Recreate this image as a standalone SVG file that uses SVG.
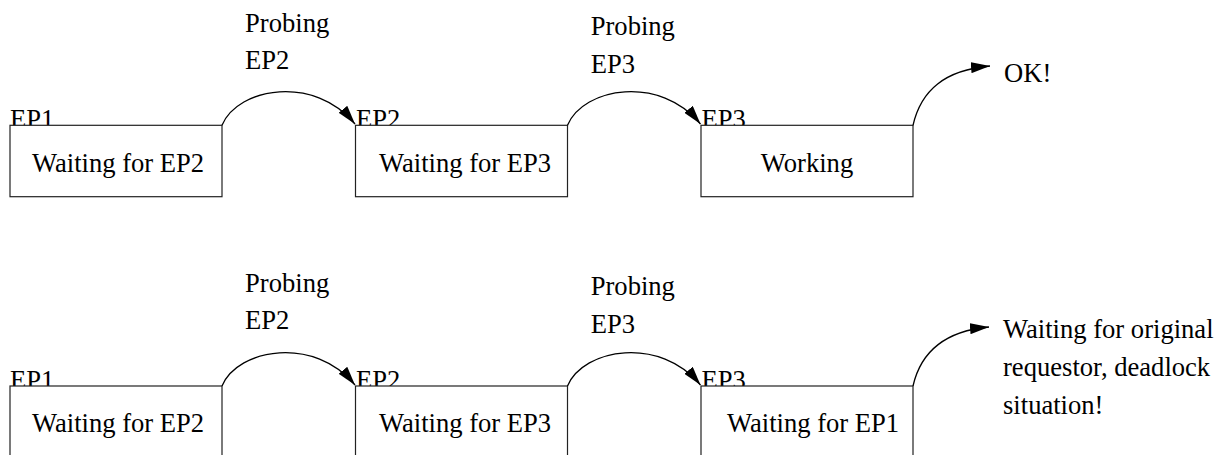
<svg xmlns="http://www.w3.org/2000/svg" width="1227" height="455" viewBox="0 0 1227 455" font-family="'Liberation Serif', 'DejaVu Serif', serif">
<style>
text{font-family:'Liberation Serif','DejaVu Serif',serif;font-size:26.6px;fill:#000}
.box{fill:#fff;stroke:#222;stroke-width:1.2}
.conn{fill:none;stroke:#000;stroke-width:1.3}
</style>
<defs>
<marker id="ah" markerUnits="userSpaceOnUse" markerWidth="19" markerHeight="11" refX="19" refY="5.5" orient="auto">
<path d="M0,0 L19,5.5 L0,11 z" fill="#000"/>
</marker>
</defs>
<rect width="1227" height="455" fill="#fff"/>
<g id="top-ep1">
<text x="10" y="127.5">EP1</text>
<rect class="box" x="10" y="125.3" width="212" height="71.4"/>
<text x="32" y="172">Waiting for EP2</text>
</g>
<g id="top-ep2">
<text x="356" y="127.5">EP2</text>
<rect class="box" x="355.5" y="125.3" width="212" height="71.4"/>
<text x="379" y="172">Waiting for EP3</text>
</g>
<g id="top-ep3">
<text x="701.5" y="127.5">EP3</text>
<rect class="box" x="701" y="125.3" width="212" height="71.4"/>
<text x="807" y="172" text-anchor="middle">Working</text>
</g>
<g id="top-ok">
<text x="1004" y="82">OK!</text>
</g>
<g id="bot-ep1">
<text x="10" y="388.5">EP1</text>
<rect class="box" x="10" y="386" width="212" height="71.4"/>
<text x="32" y="432">Waiting for EP2</text>
</g>
<g id="bot-ep2">
<text x="356" y="388.5">EP2</text>
<rect class="box" x="355.5" y="386" width="212" height="71.4"/>
<text x="379" y="432">Waiting for EP3</text>
</g>
<g id="bot-ep3">
<text x="701.5" y="388.5">EP3</text>
<rect class="box" x="701" y="386" width="212" height="71.4"/>
<text x="727" y="432">Waiting for EP1</text>
</g>
<g id="bot-deadlock">
<text x="1003" y="337.7">Waiting for original</text>
<text x="1003" y="376">requestor, deadlock</text>
<text x="1003" y="413.5">situation!</text>
</g>
<g id="connectors">
<path class="conn" marker-end="url(#ah)" d="M222,125.3 C238,87 315,75 355,124"/>
<path class="conn" marker-end="url(#ah)" d="M567.5,125.3 C583.5,87 660.5,75 700.5,124"/>
<path class="conn" marker-end="url(#ah)" d="M913,125.3 C921,90 945,70 990,66"/>
<path class="conn" marker-end="url(#ah)" d="M222,386 C238,348 315,336 355,385"/>
<path class="conn" marker-end="url(#ah)" d="M567.5,386 C583.5,348 660.5,336 700.5,385"/>
<path class="conn" marker-end="url(#ah)" d="M913,386 C921,351 945,331 989,327"/>
<text x="245" y="31.7">Probing</text>
<text x="245" y="69">EP2</text>
<text x="590.7" y="35">Probing</text>
<text x="590.7" y="73">EP3</text>
<text x="245" y="291.7">Probing</text>
<text x="245" y="329">EP2</text>
<text x="590.7" y="295">Probing</text>
<text x="590.7" y="333">EP3</text>
</g>
</svg>
